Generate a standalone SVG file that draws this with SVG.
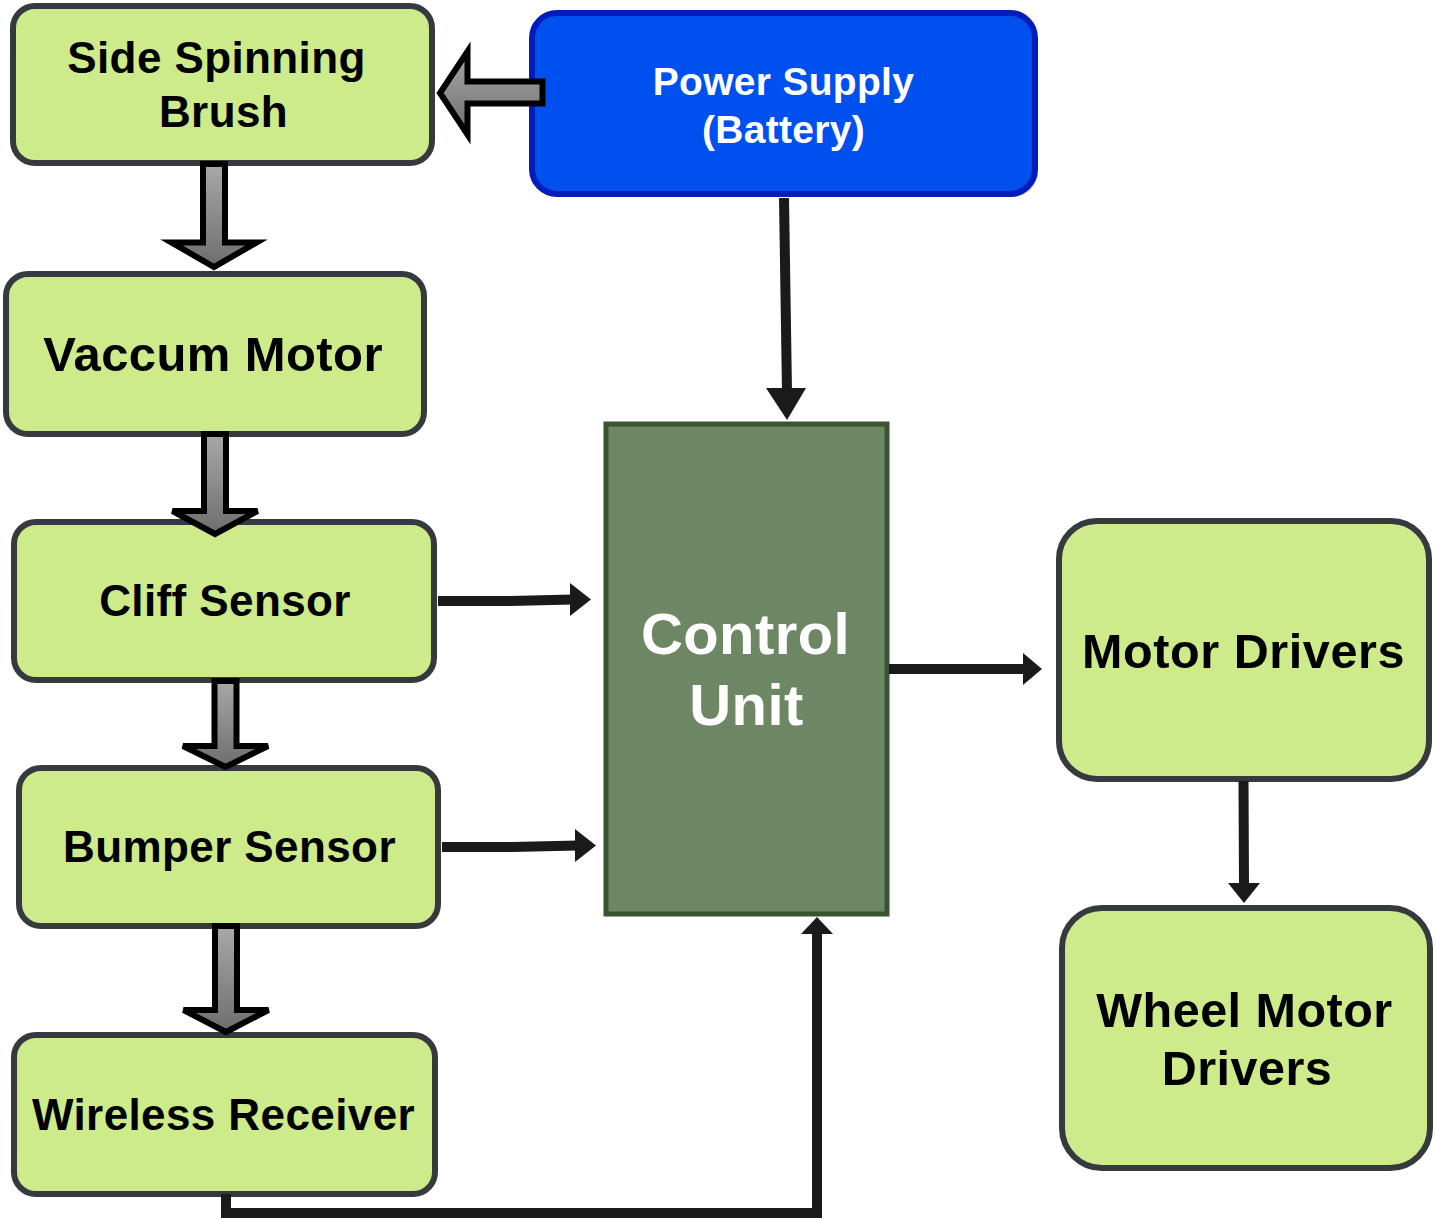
<svg xmlns="http://www.w3.org/2000/svg" width="1436" height="1220" viewBox="0 0 1436 1220">
<defs>
<linearGradient id="gray" x1="0" y1="0" x2="0" y2="1">
<stop offset="0" stop-color="#a8a8a8"/>
<stop offset="1" stop-color="#6e6e6e"/>
</linearGradient>
</defs>
<style>
.g{fill:#cdeb8b;stroke:#36393d;stroke-width:6}
.t{font-family:"Liberation Sans",Arial,sans-serif;font-weight:bold;text-anchor:middle;fill:#000}
.w{fill:#fff}
.con{fill:none;stroke:#1a1a1a;stroke-width:10;stroke-linejoin:miter}
.head{fill:#1a1a1a;stroke:none}
.flex{stroke:#000;stroke-width:6;stroke-linejoin:miter}
</style>
<rect x="0" y="0" width="1436" height="1220" fill="#fff"/>

<g id="power-supply">
<rect x="535" y="16" width="503" height="181" rx="25" fill="#9a9a9a" opacity="0.45"/>
<rect x="532" y="13" width="503" height="181" rx="25" fill="#0050ef" stroke="#001dbc" stroke-width="6"/>
<text class="t w" x="783.5" y="95" font-size="39" letter-spacing="0.3">Power Supply</text>
<text class="t w" x="783.5" y="143" font-size="39" letter-spacing="0.3">(Battery)</text>
</g>

<g id="side-spinning-brush">
<rect class="g" x="13" y="6" width="419" height="157" rx="22"/>
<text class="t" x="216.5" y="73" font-size="44" letter-spacing="0.4">Side Spinning</text>
<text class="t" x="223.5" y="127" font-size="44" letter-spacing="0.4">Brush</text>
</g>

<g id="vaccum-motor">
<rect class="g" x="6" y="274" width="418" height="160" rx="22"/>
<text class="t" x="213" y="371" font-size="49" letter-spacing="0.4">Vaccum Motor</text>
</g>

<g id="cliff-sensor">
<rect class="g" x="14" y="522" width="420" height="158" rx="22"/>
<text class="t" x="225" y="616" font-size="44" letter-spacing="0.4">Cliff Sensor</text>
</g>

<g id="bumper-sensor">
<rect class="g" x="19" y="768" width="419" height="158" rx="22"/>
<text class="t" x="229.5" y="862" font-size="44" letter-spacing="0.4">Bumper Sensor</text>
</g>

<g id="wireless-receiver">
<rect class="g" x="14" y="1035" width="421" height="159" rx="22"/>
<text class="t" x="223.5" y="1130" font-size="44" letter-spacing="0.4">Wireless Receiver</text>
</g>

<g id="control-unit">
<rect x="606" y="424" width="281" height="490" fill="#6d8764" stroke="#3a5431" stroke-width="5"/>
<text class="t w" x="745.5" y="654" font-size="58" letter-spacing="0.4">Control</text>
<text class="t w" x="746.5" y="725" font-size="58" letter-spacing="0.4">Unit</text>
</g>

<g id="motor-drivers">
<rect class="g" x="1059" y="521" width="370" height="258" rx="38"/>
<text class="t" x="1243.5" y="668" font-size="48.5" letter-spacing="0.6">Motor Drivers</text>
</g>

<g id="wheel-motor-drivers">
<rect class="g" x="1062" y="908" width="368" height="260" rx="40"/>
<text class="t" x="1244.5" y="1027" font-size="48.5" letter-spacing="0.5">Wheel Motor</text>
<text class="t" x="1247" y="1085" font-size="48.5" letter-spacing="0.5">Drivers</text>
</g>

<g id="connectors">
<path class="flex" fill="url(#gray)" d="M203,164 L203,242.5 L171.5,242.5 L214,267 L256.5,242.5 L225,242.5 L225,164 Z"/>
<path class="flex" fill="url(#gray)" d="M204,434 L204,511 L172.5,511 L215,534 L257.5,511 L226,511 L226,434 Z"/>
<path class="flex" fill="url(#gray)" d="M214.5,681 L214.5,746 L183,746 L225.5,767 L268,746 L236.5,746 L236.5,681 Z"/>
<path class="flex" fill="url(#gray)" d="M215,926 L215,1010 L183.5,1010 L226,1032 L268.5,1010 L237,1010 L237,926 Z"/>
<path class="flex" fill="url(#gray)" d="M542.5,81.5 L467.5,81.5 L467.5,51.5 L440,93 L467.5,134.5 L467.5,103.5 L542.5,103.5 Z"/>

<path class="con" d="M784,198 L787,392"/>
<polygon class="head" points="766,388 806,388 787,420"/>

<path class="con" d="M438,601 L510,601 L573,599.5"/>
<polygon class="head" points="570,583 570,616 591,599.5"/>

<path class="con" d="M442,847 L512,847 L578,845.5"/>
<polygon class="head" points="575,829 575,862 596,845.5"/>

<path class="con" d="M889,669 L1026,669"/>
<polygon class="head" points="1023,653 1023,685 1042,669"/>

<path class="con" d="M1243.5,781 L1244,886"/>
<polygon class="head" points="1228,883 1260,883 1244,903"/>

<path class="con" d="M226,1194 L226,1213 L817,1213 L817,931"/>
<polygon class="head" points="801,934 833,934 817,917"/>
</g>
</svg>
